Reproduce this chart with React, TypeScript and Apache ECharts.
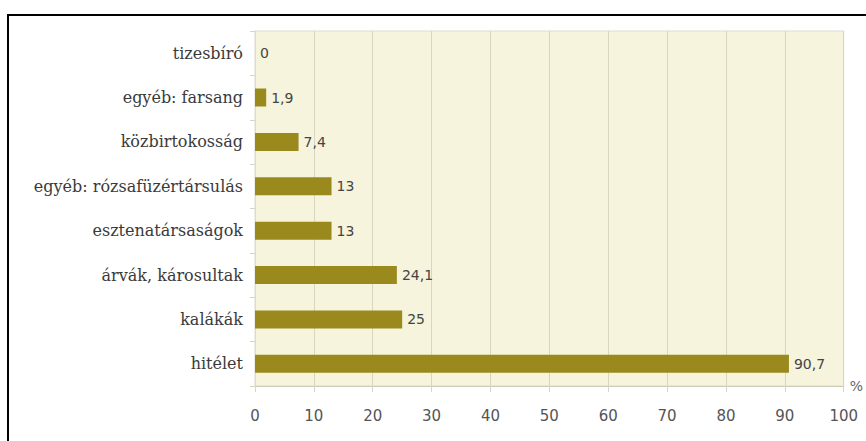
import React, { useEffect, useRef } from "react";
import * as echarts from "echarts";

const categories = [
  "tizesbíró",
  "egyéb: farsang",
  "közbirtokosság",
  "egyéb: rózsafüzértársulás",
  "esztenatársaságok",
  "árvák, károsultak",
  "kalákák",
  "hitélet",
];
const values = [0, 1.9, 7.4, 13, 13, 24.1, 25, 90.7];
const xTicks = [0, 10, 20, 30, 40, 50, 60, 70, 80, 90, 100];

export default function App() {
  const ref = useRef<HTMLDivElement>(null);
  useEffect(() => {
    if (!ref.current) return;
    const chart = echarts.init(ref.current, null, { renderer: "svg" });
    chart.setOption({
      animation: false,
      backgroundColor: "#ffffff",
      graphic: [
        {
          type: "rect",
          z: 100,
          shape: { x: 8, y: 15, width: 900, height: 500 },
          style: { fill: "none", stroke: "#000000", lineWidth: 2 },
        },
      ],
      grid: {
        left: 255,
        top: 31,
        right: 21,
        bottom: 55,
        show: true,
        backgroundColor: "#f6f4dc",
        borderColor: "#dedbd0",
        borderWidth: 1,
      },
      xAxis: {
        type: "value",
        min: xTicks[0],
        max: xTicks[xTicks.length - 1],
        interval: 10,
        name: "%",
        nameLocation: "end",
        nameGap: 6,
        nameTextStyle: { color: "#666", fontFamily: "DejaVu Sans", fontSize: 14, padding: [6, 0, 0, 0] },
        axisLine: { show: true, lineStyle: { color: "#cfcbb8" } },
        axisTick: { show: true, length: 6, lineStyle: { color: "#d8d5c4" } },
        axisLabel: {
          color: "#555",
          fontFamily: "DejaVu Sans",
          fontSize: 15,
          margin: 22,
        },
        splitLine: { show: true, lineStyle: { color: "#d9d6c0", width: 1 } },
      },
      yAxis: {
        type: "category",
        inverse: true,
        data: categories,
        axisLine: { show: true, lineStyle: { color: "#dedbd0" } },
        axisTick: { show: true, length: 5, lineStyle: { color: "#d8d5c8" } },
        axisLabel: {
          color: "#3a3a3a",
          fontFamily: "DejaVu Serif",
          fontSize: 16,
          margin: 12,
        },
      },
      series: [
        {
          type: "bar",
          data: values,
          barWidth: 18,
          itemStyle: { color: "#9a8a1e" },
          label: {
            show: true,
            position: "right",
            distance: 5,
            color: "#444",
            fontFamily: "DejaVu Sans",
            fontSize: 14,
            formatter: (p: any) => String(p.value).replace(".", ","),
          },
        },
      ],
    });
    return () => chart.dispose();
  }, []);
  return (
    <div
      ref={ref}
      style={{ position: "fixed", left: 0, top: 0, width: 866, height: 441 }}
    />
  );
}
